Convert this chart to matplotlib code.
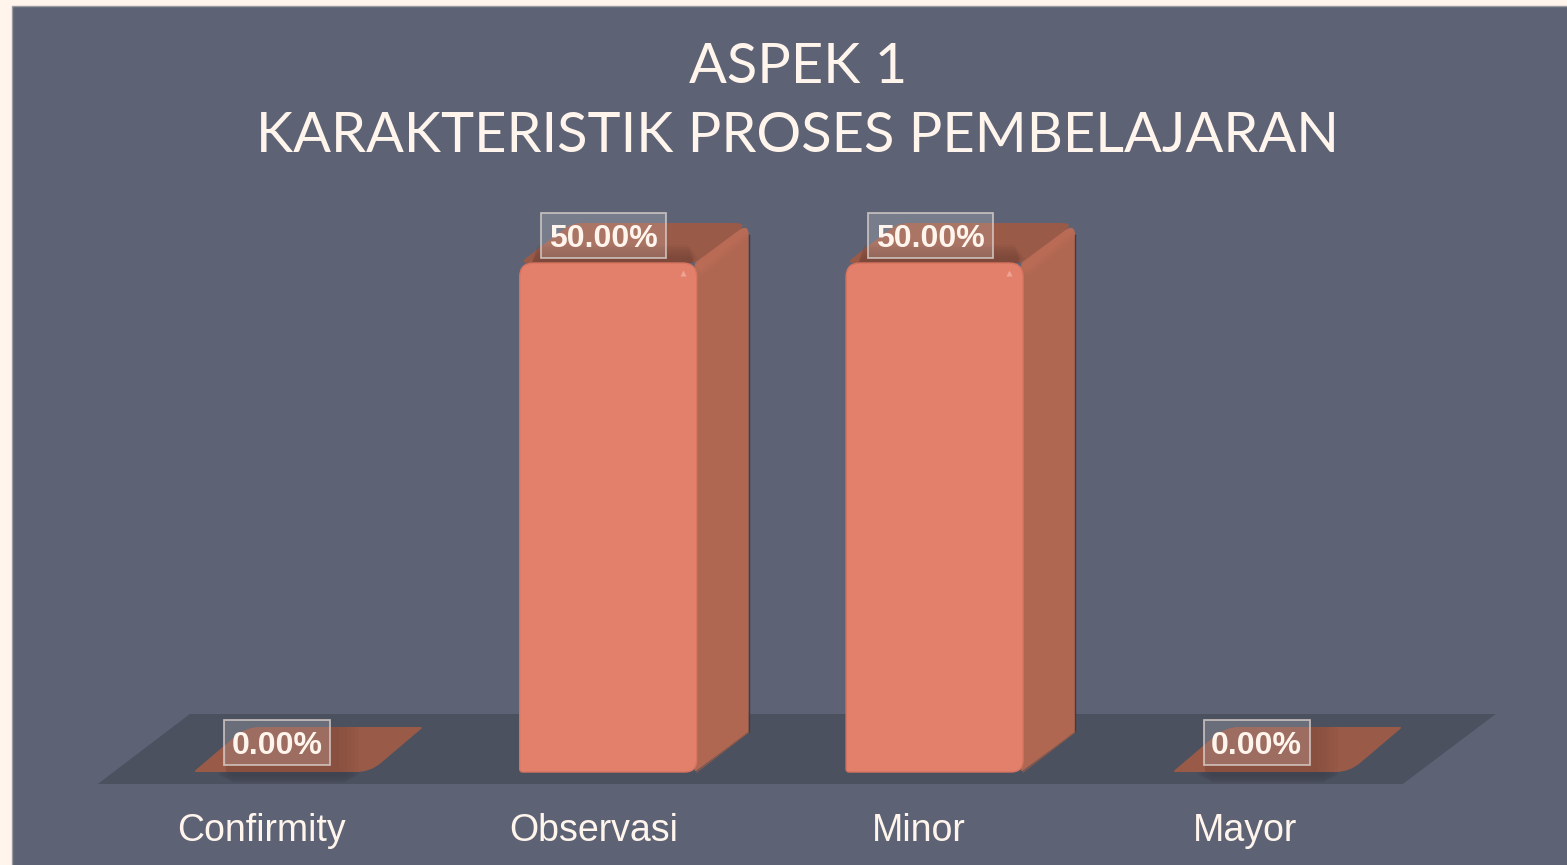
import matplotlib
matplotlib.use("Agg")
import matplotlib.pyplot as plt
from matplotlib.patches import PathPatch, Polygon, Rectangle
from matplotlib.path import Path
import numpy as np

# Data
categories = ["Confirmity", "Observasi", "Minor", "Mayor"]
values = [0.0, 50.0, 50.0, 0.0]
title = "ASPEK 1\nKARAKTERISTIK PROSES PEMBELAJARAN"

# Colours
page = "#FFF5EC"
panel = "#5D6375"
floor_col = "#4C5160"
front_col = "#E2806C"
side_col = "#AF6752"
top_col = "#9A5A48"
text_col = "#FFF5EC"

W, H = 1567, 865
# pixel scale of the value axis and category axis
px_per_cat = 326.4
px_per_val = (772 - 263) / 50.0
x0_px = 281.8
y0_px = 772.0

fig = plt.figure(figsize=(W / 100, H / 100), dpi=100, facecolor=page)
ax = fig.add_axes([0, 0, 1, 1])
ax.set_xlim((0 - x0_px) / px_per_cat, (W - x0_px) / px_per_cat)
ax.set_ylim((y0_px - H) / px_per_val, y0_px / px_per_val)
ax.axis("off")

sx = 1 / px_per_cat
sy = 1 / px_per_val


def rounded(points, radii):
    # closed path through data points, corners rounded by a radius in pixels
    pts = np.array(points, dtype=float)
    n = len(pts)
    verts, codes = [], []
    for i in range(n):
        p = pts[i]
        a = pts[i - 1]
        b = pts[(i + 1) % n]
        r = radii[i]
        da = np.array([(a[0] - p[0]) / sx, (a[1] - p[1]) / sy])
        db = np.array([(b[0] - p[0]) / sx, (b[1] - p[1]) / sy])
        da = da / np.hypot(*da) * r
        db = db / np.hypot(*db) * r
        p1 = (p[0] + da[0] * sx, p[1] + da[1] * sy)
        p2 = (p[0] + db[0] * sx, p[1] + db[1] * sy)
        verts.append(p1)
        codes.append(Path.MOVETO if i == 0 else Path.LINETO)
        verts += [tuple(p), p2]
        codes += [Path.CURVE3, Path.CURVE3]
    verts.append(verts[0])
    codes.append(Path.CLOSEPOLY)
    return Path(verts, codes)


# panel behind the chart
ax.add_patch(Rectangle((11.5 / W, -0.02), 1.1, 1.02 - 6 / H, transform=ax.transAxes,
                       facecolor=panel, edgecolor="#9A9AA0", lw=1.0, zorder=0))

# floor
ax.add_patch(Polygon([(-184 * sx, -12 * sy), (1121 * sx, -12 * sy),
                      (1214 * sx, 58 * sy), (-92 * sx, 58 * sy)],
                     facecolor=floor_col, edgecolor="none", zorder=1))

half = 88.5 * sx
label_shift = [-20.3, -14.7, -15.6, -16.0]
for i, v in enumerate(values):
    left, right = i - half, i + half
    if v == 0:
        dx, dy = 53 * sx, 45 * sy
        # soft shadow under the flat bar
        for g in range(8):
            ax.add_patch(PathPatch(
                rounded([(i - 50 * sx - g * 2 * sx, -11 * sy + g * sy), (i + 64 * sx + g * 2 * sx, -11 * sy + g * sy),
                         (i + 64 * sx + g * 2 * sx, 8 * sy), (i - 50 * sx - g * 2 * sx, 8 * sy)], [4, 4, 4, 4]),
                facecolor="#3E414D", edgecolor="none", alpha=0.14, zorder=2))
        plate = PathPatch(
            rounded([(left, 0), (right, 0), (right + dx, dy), (left + dx, dy)], [3, 14, 3, 14]),
            facecolor=top_col, edgecolor="none", zorder=3)
        ax.add_patch(plate)
        # shadow of the label box on the flat bar, kept inside the plate
        for g in range(6):
            s = Rectangle((i - 56 * sx, 0), (113 + g * 4) * sx, 46 * sy,
                          facecolor="#7F4B3C", edgecolor="none", alpha=0.12, zorder=3.05)
            ax.add_patch(s)
            s.set_clip_path(plate)
    else:
        dx, dy = 52 * sx, 40 * sy
        top = v
        # top face
        ax.add_patch(PathPatch(
            rounded([(left, top), (right, top), (right + dx, top + dy), (left + dx, top + dy)], [8, 8, 14, 10]),
            facecolor=top_col, edgecolor="none", zorder=3))
        # shadow of the front face on the top
        for g in range(7):
            ax.add_patch(Polygon(
                [(left + 12 * sx, top), (right - 4 * sx, top),
                 (right + (3 - g * 2) * sx, top + (5 + g * 2.2) * sy), (left + 18 * sx, top + (5 + g * 2.2) * sy)],
                facecolor="#774638", edgecolor="none", alpha=0.17, zorder=3.1))
        # side face, dark line on the outer edge only
        side = PathPatch(
            rounded([(right - 2 * sx, 0), (right + dx, dy), (right + dx, top + dy), (right - 2 * sx, top)],
                    [2, 2, 13, 2]),
            facecolor=side_col, edgecolor="none", zorder=3.2)
        ax.add_patch(side)
        ax.plot([right + dx, right + dx], [dy, top + dy - 12 * sy], color="#4A3A38", lw=1.0, zorder=3.25)
        ax.plot([right, right + dx], [0, dy], color="#8F5A4A", lw=0.8, zorder=3.25)
        # lighter bevel along the upper edge of the side
        for lw, al in zip([13, 9, 5], [0.18, 0.25, 0.3]):
            line, = ax.plot([right + 3 * sx, right + dx - 4 * sx], [top - 3 * sy, top + dy - 6 * sy],
                            color="#C4705A", lw=lw, alpha=al, solid_capstyle="round", zorder=3.3)
            line.set_clip_path(side)
        # front face
        ax.add_patch(PathPatch(
            rounded([(left, 0), (right, 0), (right, top), (left, top)], [3, 12, 14, 14]),
            facecolor=front_col, edgecolor="#D6745F", lw=1.0, zorder=4))
        ax.plot([right - 14 * sx], [top - 10 * sy], marker="^", ms=5, color="#EFA594", mec="none", zorder=4.1)

    # value label
    cx = i - 4.5 * sx
    cy = v + (30 * sy if v == 0 else 27.5 * sy)
    w = 53 * sx if v == 0 else 62.5 * sx
    ax.add_patch(Rectangle((cx - w, cy - 22.5 * sy), 2 * w, 45 * sy, facecolor="white", alpha=0.17,
                           edgecolor="none", zorder=5))
    ax.add_patch(Rectangle((cx - w, cy - 22.5 * sy), 2 * w, 45 * sy, facecolor="none",
                           edgecolor="#D9CFCB", lw=1.3, alpha=0.8, zorder=5.1))
    ax.text(cx, cy, f"{v:.2f}%", ha="center", va="center_baseline", color=text_col,
            fontsize=23, fontweight="bold", family="Liberation Sans", zorder=6)

# category labels sit a little left of the bars
for i, name in enumerate(categories):
    ax.text(i + label_shift[i] * sx, -55 * sy, name, ha="center", va="center_baseline", color=text_col,
            fontsize=27, family="Liberation Sans", zorder=6)

fig.text(798 / W, 1 - 102 / H, title, ha="center", va="center", color=text_col,
         fontsize=40.3, family="Lato", linespacing=1.42)

fig.savefig("out.png", dpi=100, facecolor=page)
